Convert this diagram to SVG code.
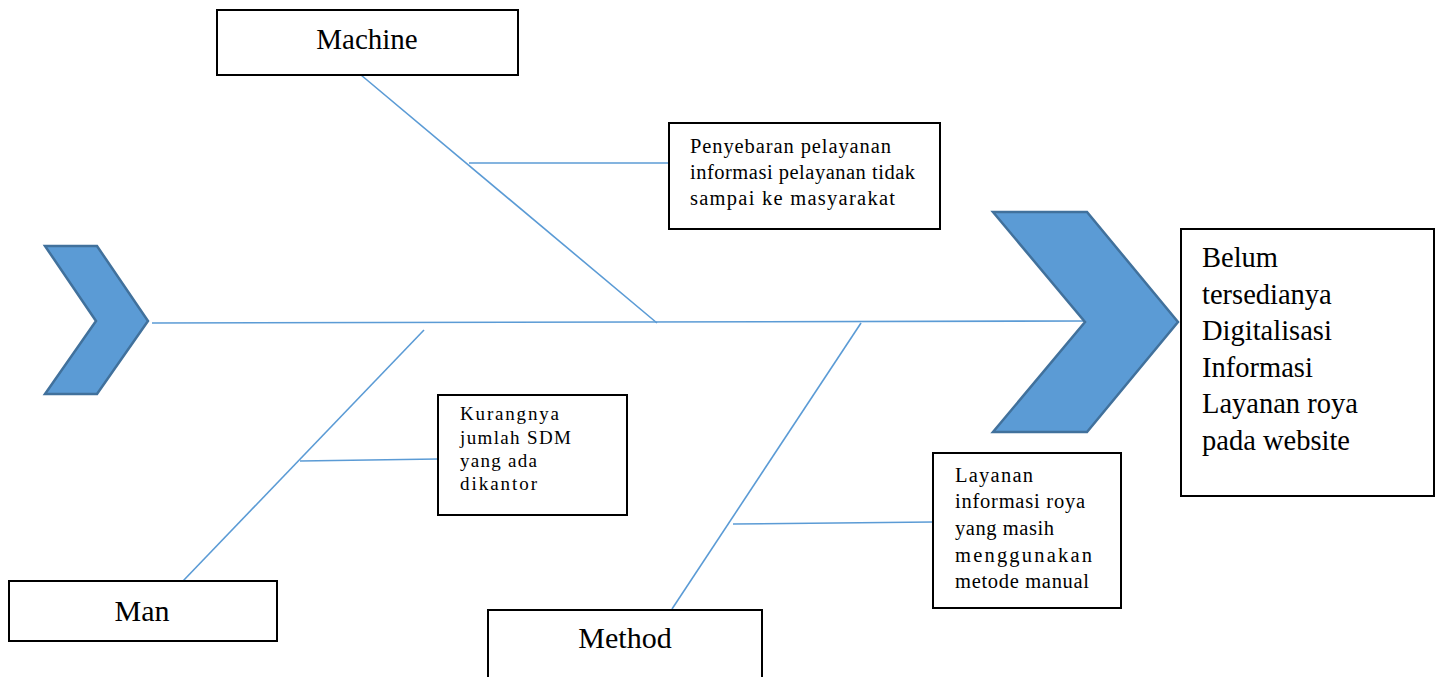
<svg xmlns="http://www.w3.org/2000/svg" width="1441" height="677" viewBox="0 0 1441 677">
<style>
.box{fill:#fff;stroke:#000;stroke-width:2}
.chev{fill:#5B9BD5;stroke:#41719C;stroke-width:2.5;stroke-linejoin:miter}
.bone{stroke:#5B9BD5;stroke-width:1.6;fill:none}
.t{font-family:"Liberation Serif","Times New Roman",serif;fill:#000}
.cat{font-size:30px;text-anchor:middle}
.sm{font-size:20.5px}
.big{font-size:28.5px}
</style>
<rect width="1441" height="677" fill="#fff"/>
<g id="connectors">
<line class="bone" x1="152" y1="323" x2="1086" y2="321"/>
<line class="bone" x1="361" y1="75" x2="657" y2="323"/>
<line class="bone" x1="469" y1="163" x2="669" y2="163"/>
<line class="bone" x1="424" y1="330" x2="183" y2="581"/>
<line class="bone" x1="300" y1="461" x2="438" y2="459"/>
<line class="bone" x1="861" y1="323" x2="672" y2="609"/>
<line class="bone" x1="733" y1="524" x2="933" y2="522"/>
</g>
<g id="tail">
<polygon class="chev" points="45,246 97,246 148,321 97,394 45,394 96,321"/>
</g>
<g id="head">
<polygon class="chev" points="993,212 1087,212 1178,322 1087,432 993,432 1085,322"/>
</g>
<g id="effect">
<rect class="box" x="1181" y="229" width="253" height="267"/>
<text class="t big" x="1202"><tspan x="1202" y="267">Belum</tspan><tspan x="1202" y="303.5">tersedianya</tspan><tspan x="1202" y="340">Digitalisasi</tspan><tspan x="1202" y="376.5">Informasi</tspan><tspan x="1202" y="413">Layanan roya</tspan><tspan x="1202" y="449.5">pada website</tspan></text>
</g>
<g id="machine">
<rect class="box" x="217" y="10" width="301" height="65"/>
<text class="t cat" x="367" y="49" style="font-size:29px">Machine</text>
</g>
<g id="cause-machine">
<rect class="box" x="669" y="123" width="271" height="106"/>
<text class="t sm"><tspan x="690" y="153" textLength="201" lengthAdjust="spacing">Penyebaran pelayanan</tspan><tspan x="690" y="179" textLength="225" lengthAdjust="spacing">informasi pelayanan tidak</tspan><tspan x="690" y="205" textLength="205" lengthAdjust="spacing">sampai ke masyarakat</tspan></text>
</g>
<g id="man">
<rect class="box" x="9" y="581" width="268" height="60"/>
<text class="t cat" x="142" y="621">Man</text>
</g>
<g id="cause-man">
<rect class="box" x="438" y="395" width="189" height="120"/>
<text class="t" style="font-size:19px"><tspan x="460" y="420" textLength="99" lengthAdjust="spacing">Kurangnya</tspan><tspan x="460" y="444" textLength="111" lengthAdjust="spacing">jumlah SDM</tspan><tspan x="460" y="467" textLength="77" lengthAdjust="spacing">yang ada</tspan><tspan x="460" y="490" textLength="77" lengthAdjust="spacing">dikantor</tspan></text>
</g>
<g id="method">
<rect class="box" x="488" y="610" width="274" height="90"/>
<text class="t cat" x="625" y="648">Method</text>
</g>
<g id="cause-method">
<rect class="box" x="933" y="453" width="188" height="155"/>
<text class="t sm"><tspan x="955" y="482" textLength="78" lengthAdjust="spacing">Layanan</tspan><tspan x="955" y="508" textLength="130" lengthAdjust="spacing">informasi roya</tspan><tspan x="955" y="535" textLength="99" lengthAdjust="spacing">yang masih</tspan><tspan x="955" y="562" textLength="137" lengthAdjust="spacing">menggunakan</tspan><tspan x="955" y="588" textLength="134" lengthAdjust="spacing">metode manual</tspan></text>
</g>
</svg>
